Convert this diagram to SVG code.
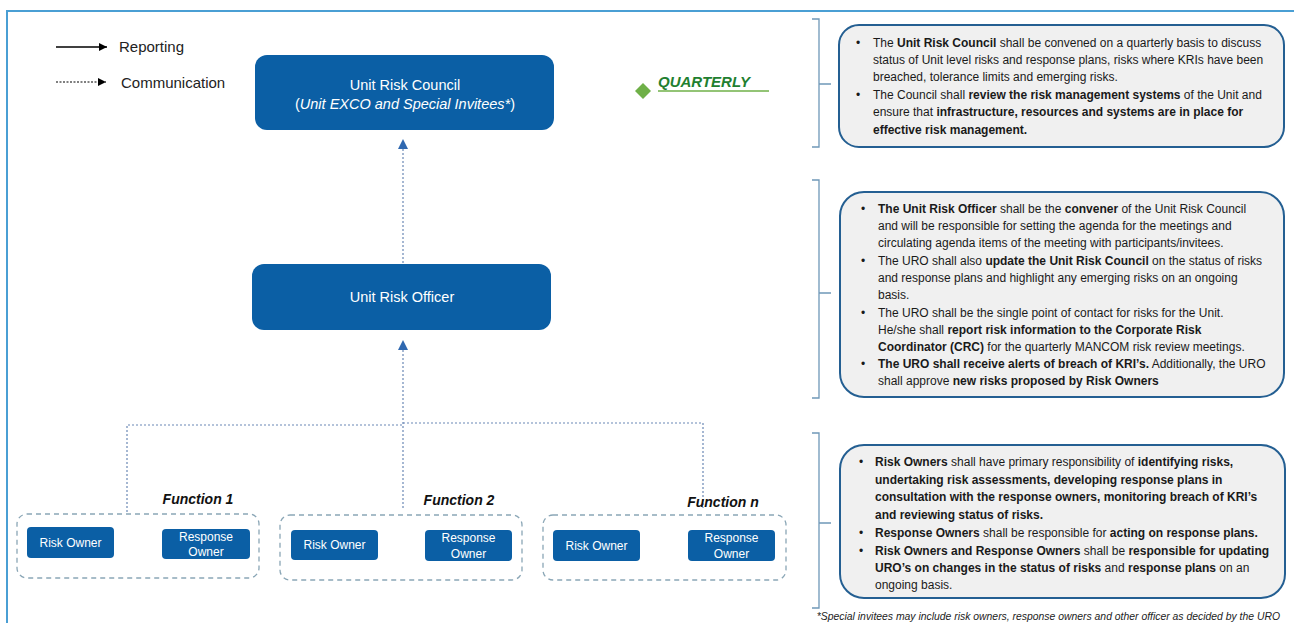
<svg xmlns="http://www.w3.org/2000/svg" width="1294" height="623" viewBox="0 0 1294 623">
<style>
.node{fill:#0b5fa5;}
.nt{fill:#ffffff;font-family:"Liberation Sans",Arial,sans-serif;text-anchor:middle;}
.note{fill:#f0f0f0;stroke:#245f92;stroke-width:2;}
.tx{font-family:"Liberation Sans",Arial,sans-serif;font-size:12px;fill:#1a1a1a;}
.b{font-weight:bold;}
.brk{fill:none;stroke:#6f98b8;stroke-width:1.3;}
.grp{fill:none;stroke:#8aa6b6;stroke-width:1.3;stroke-dasharray:5,4;}
.fn{font-family:"Liberation Sans",Arial,sans-serif;font-size:14px;font-weight:bold;font-style:italic;fill:#111;text-anchor:middle;}
.conn{fill:none;stroke:#6a88b5;stroke-width:1.2;stroke-dasharray:2,2;}
.leg{font-family:"Liberation Sans",Arial,sans-serif;font-size:15px;fill:#222;}
</style>
<defs>
<marker id="ah" viewBox="0 0 10 10" refX="10" refY="5" markerWidth="10" markerHeight="10" markerUnits="userSpaceOnUse" orient="auto">
<path d="M0,0 L10,5 L0,10 z" fill="#2f68b0"/>
</marker>
<marker id="ahk" viewBox="0 0 10 10" refX="10" refY="5" markerWidth="9" markerHeight="8" markerUnits="userSpaceOnUse" orient="auto">
<path d="M0,0 L10,5 L0,10 z" fill="#000"/>
</marker>
</defs>
<rect width="1294" height="623" fill="#ffffff"/>
<path d="M7,623 V11 H1294" fill="none" stroke="#4a9fd4" stroke-width="2"/>

<g id="legend">
<line x1="56" y1="47" x2="107" y2="47" stroke="#000" stroke-width="1.3" marker-end="url(#ahk)"/>
<text class="leg" x="119" y="52">Reporting</text>
<line x1="56" y1="82" x2="106" y2="82" stroke="#000" stroke-width="1.1" stroke-dasharray="2,1.5" marker-end="url(#ahk)"/>
<text class="leg" x="121" y="88">Communication</text>
</g>

<g id="quarterly">
<path d="M643,83 L651,91 L643,99 L635,91 z" fill="#6fb048"/>
<line x1="658" y1="91" x2="769" y2="91" stroke="#6fb048" stroke-width="1.5"/>
<text x="658" y="87" font-family="'Liberation Sans',Arial,sans-serif" font-size="15" font-weight="bold" font-style="italic" fill="#1f8030">QUARTERLY</text>
</g>

<g id="connectors">
<line class="conn" x1="403" y1="263" x2="403" y2="139" marker-end="url(#ah)"/>
<line class="conn" x1="403" y1="508" x2="403" y2="340" marker-end="url(#ah)"/>
<path class="conn" d="M127,512 V425 H403"/>
<path class="conn" d="M403,423 H703 V508"/>
</g>

<g id="unit-risk-council">
<rect class="node" x="255" y="55" width="299" height="75" rx="12"/>
<text class="nt" x="405" y="90" font-size="14.5">Unit Risk Council</text>
<text class="nt" x="405" y="109" font-size="14.5">(<tspan font-style="italic">Unit EXCO and Special Invitees*</tspan>)</text>
</g>

<g id="unit-risk-officer">
<rect class="node" x="252" y="264" width="299" height="66" rx="12"/>
<text class="nt" x="402" y="302" font-size="14.5">Unit Risk Officer</text>
</g>

<g id="function-1">
<rect class="grp" x="17" y="514" width="242" height="64" rx="10"/>
<text class="fn" x="198" y="504">Function 1</text>
<rect class="node" x="27" y="527" width="87" height="31" rx="4"/>
<text class="nt" x="70.5" y="547" font-size="12">Risk Owner</text>
<rect class="node" x="162" y="529" width="88" height="30" rx="4"/>
<text class="nt" x="206" y="541" font-size="12">Response</text>
<text class="nt" x="206" y="556" font-size="12">Owner</text>
</g>

<g id="function-2">
<rect class="grp" x="280" y="515" width="242" height="65" rx="10"/>
<text class="fn" x="459" y="505">Function 2</text>
<rect class="node" x="291" y="530" width="87" height="30" rx="4"/>
<text class="nt" x="334.5" y="549" font-size="12">Risk Owner</text>
<rect class="node" x="425" y="530" width="87" height="31" rx="4"/>
<text class="nt" x="468.5" y="542" font-size="12">Response</text>
<text class="nt" x="468.5" y="558" font-size="12">Owner</text>
</g>

<g id="function-n">
<rect class="grp" x="543" y="515" width="243" height="65" rx="10"/>
<text class="fn" x="723" y="507">Function <tspan>n</tspan></text>
<rect class="node" x="553" y="530" width="87" height="31" rx="4"/>
<text class="nt" x="596.5" y="550" font-size="12">Risk Owner</text>
<rect class="node" x="688" y="530" width="87" height="31" rx="4"/>
<text class="nt" x="731.5" y="542" font-size="12">Response</text>
<text class="nt" x="731.5" y="558" font-size="12">Owner</text>
</g>

<g id="brackets">
<path class="brk" d="M812,19 H819 V147 H812 M819,84 H831"/>
<path class="brk" d="M812,180 H819 V398 H812 M819,293 H831"/>
<path class="brk" d="M812,433 H819 V608 H812 M819,523 H831"/>
</g>

<g id="note-council">
<rect class="note" x="839" y="25" width="445" height="122" rx="20"/>
<text class="tx" x="856" y="47">•</text>
<text class="tx" x="873" y="47">The <tspan class="b">Unit Risk Council</tspan> shall be convened on a quarterly basis to discuss</text>
<text class="tx" x="873" y="64">status of Unit level risks and response plans, risks where KRIs have been</text>
<text class="tx" x="873" y="81">breached, tolerance limits and emerging risks.</text>
<text class="tx" x="856" y="99">•</text>
<text class="tx" x="873" y="99">The Council shall <tspan class="b">review the risk management systems</tspan> of the Unit and</text>
<text class="tx" x="873" y="116">ensure that <tspan class="b">infrastructure, resources and systems are in place for</tspan></text>
<text class="tx b" x="873" y="134">effective risk management.</text>
</g>

<g id="note-officer">
<rect class="note" x="840" y="192" width="444" height="205" rx="24"/>
<text class="tx" x="861" y="213">•</text>
<text class="tx" x="878" y="213"><tspan class="b">The Unit Risk Officer</tspan> shall be the <tspan class="b">convener</tspan> of the Unit Risk Council</text>
<text class="tx" x="878" y="230">and will be responsible for setting the agenda for the meetings and</text>
<text class="tx" x="878" y="247">circulating agenda items of the meeting with participants/invitees.</text>
<text class="tx" x="861" y="265">•</text>
<text class="tx" x="878" y="265">The URO shall also <tspan class="b">update the Unit Risk Council</tspan> on the status of risks</text>
<text class="tx" x="878" y="282">and response plans and highlight any emerging risks on an ongoing</text>
<text class="tx" x="878" y="299">basis.</text>
<text class="tx" x="861" y="317">•</text>
<text class="tx" x="878" y="317">The URO shall be the single point of contact for risks for the Unit.</text>
<text class="tx" x="878" y="334">He/she shall <tspan class="b">report risk information to the Corporate Risk</tspan></text>
<text class="tx" x="878" y="351"><tspan class="b">Coordinator (CRC)</tspan> for the quarterly MANCOM risk review meetings.</text>
<text class="tx" x="861" y="368">•</text>
<text class="tx" x="878" y="368"><tspan class="b">The URO shall receive alerts of breach of KRI’s.</tspan> Additionally, the URO</text>
<text class="tx" x="878" y="385">shall approve <tspan class="b">new risks proposed by Risk Owners</tspan></text>
</g>

<g id="note-owners">
<rect class="note" x="840" y="445" width="445" height="153" rx="24"/>
<text class="tx" x="859" y="466">•</text>
<text class="tx" x="875" y="466"><tspan class="b">Risk Owners</tspan> shall have primary responsibility of <tspan class="b">identifying risks,</tspan></text>
<text class="tx b" x="875" y="484">undertaking risk assessments, developing response plans in</text>
<text class="tx b" x="875" y="501">consultation with the response owners, monitoring breach of KRI’s</text>
<text class="tx b" x="875" y="519">and reviewing status of risks.</text>
<text class="tx" x="859" y="537">•</text>
<text class="tx" x="875" y="537"><tspan class="b">Response Owners</tspan> shall be responsible for <tspan class="b">acting on response plans.</tspan></text>
<text class="tx" x="859" y="555">•</text>
<text class="tx" x="875" y="555"><tspan class="b">Risk Owners and Response Owners</tspan> shall be <tspan class="b">responsible for updating</tspan></text>
<text class="tx" x="875" y="572"><tspan class="b">URO’s on changes in the status of risks</tspan> and <tspan class="b">response plans</tspan> on an</text>
<text class="tx" x="875" y="589">ongoing basis.</text>
</g>

<text x="1280" y="620" text-anchor="end" font-family="'Liberation Sans',Arial,sans-serif" font-size="10.4" font-style="italic" fill="#222">*Special invitees may include risk owners, response owners and other officer as decided by the URO</text>
</svg>
